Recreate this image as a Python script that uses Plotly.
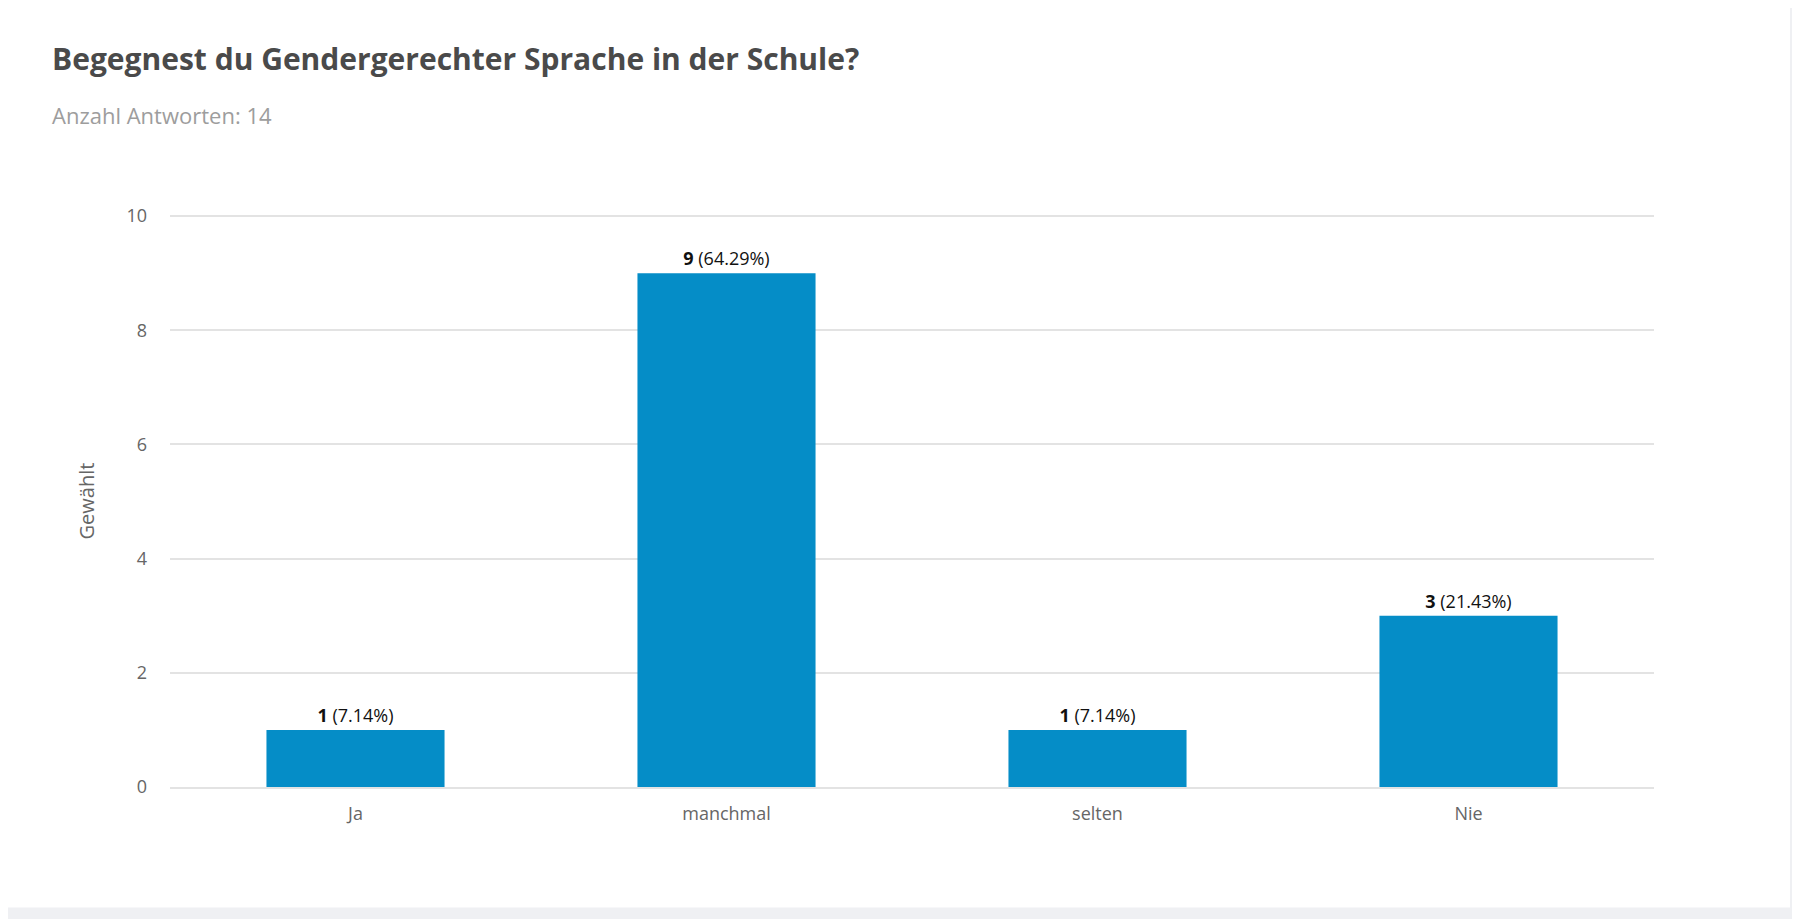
import plotly.graph_objects as go

# survey results
categories = ['Ja', 'manchmal', 'selten', 'Nie']
counts = [1, 9, 1, 3]
percents = [7.14, 64.29, 7.14, 21.43]
y_ticks = [0, 2, 4, 6, 8, 10]

title_text = 'Begegnest du Gendergerechter Sprache in der Schule?'
subtitle_text = 'Anzahl Antworten: 14'

labels = ['<b>%d</b> (%.2f%%)' % (c, p) for c, p in zip(counts, percents)]

# figure sits at (8, 8) in the page, so the sizes are a bit smaller
W, H = 1792, 911
L, T = 162, 207
PW, PH = 1484, 572.5
R, B = W - L - PW, H - T - PH


def px_x(x):
    return (x - L) / PW


def px_y(y):
    return (T + PH - y) / PH


fig = go.Figure()
fig.add_trace(go.Bar(x=categories, y=counts, text=labels, textposition='outside',
                     marker_color='#058DC7', marker_line_width=0,
                     textfont=dict(family='Open Sans', size=18, color='#111111'),
                     cliponaxis=False))

fig.update_layout(
    width=W, height=H,
    margin=dict(l=L, r=R, t=T, b=B),
    paper_bgcolor='white', plot_bgcolor='white',
    bargap=0.52, showlegend=False,
    font=dict(family='Open Sans', color='#666666'),
)
fig.update_xaxes(showgrid=False, showline=True, linecolor='#e3e3e3', linewidth=1.5,
                 ticks='', ticklabelstandoff=10, tickfont=dict(size=18, color='#666666'))
fig.update_yaxes(range=[0, 10.02], tickvals=y_ticks, showgrid=True, gridcolor='#e3e3e3',
                 gridwidth=1.5, zeroline=False, ticks='', ticklabelstandoff=22,
                 tickfont=dict(size=18, color='#666666'),
                 title=dict(text='Gewählt', font=dict(size=20, color='#666666'), standoff=26))

# title and subtitle
fig.add_annotation(text='<b>' + title_text + '</b>', xref='paper', yref='paper',
                   x=px_x(42), y=px_y(50), xanchor='left', yanchor='middle',
                   showarrow=False, font=dict(family='Open Sans', size=30, color='#4a4a4a'))
fig.add_annotation(text=subtitle_text, xref='paper', yref='paper',
                   x=px_x(42), y=px_y(107), xanchor='left', yanchor='middle',
                   showarrow=False, font=dict(family='Open Sans', size=22, color='#9d9d9d'))

# page chrome: grey strips at right and bottom
fig.add_shape(type='rect', xref='paper', yref='paper', x0=px_x(1782), x1=1.2,
              y0=-0.3, y1=1.5, fillcolor='#eff0f3', line_width=0, layer='below')
fig.add_shape(type='rect', xref='paper', yref='paper', x0=-0.2, x1=1.2,
              y0=-0.3, y1=px_y(900), fillcolor='#eff0f3', line_width=0, layer='below')
fig.add_shape(type='rect', xref='paper', yref='paper', x0=px_x(1788), x1=1.2,
              y0=px_y(114), y1=px_y(47), fillcolor='#d8d9dc', line_width=0)
fig.add_shape(type='rect', xref='paper', yref='paper', x0=px_x(1788), x1=1.2,
              y0=px_y(199), y1=px_y(130), fillcolor='#d8d9dc', line_width=0)

fig.write_html("out.html")
